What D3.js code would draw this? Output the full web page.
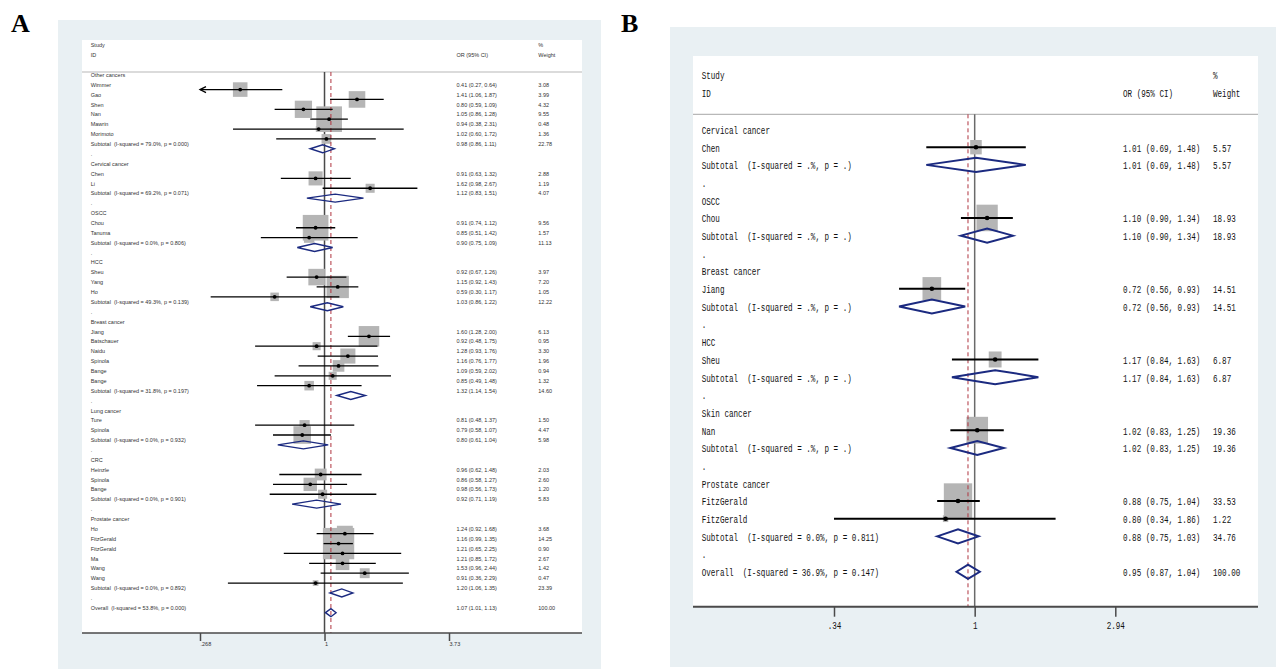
<!DOCTYPE html>
<html>
<head>
<meta charset="utf-8">
<script src="https://cdn.jsdelivr.net/npm/d3@7"></script>
<style>
  html, body { margin: 0; padding: 0; background: #ffffff; }
  svg { display: block; }
  text { white-space: pre; }
</style>
</head>
<body>
<svg id="chart" width="1278" height="669"></svg>
<script>
// row kinds: h = group heading, s = study, t = subtotal, g = spacer ".", o = overall
// study/subtotal rows: [kind, label, OR, lower, upper, weight, arrowLeft]
const rowsA = [
  ['h', 'Other cancers'],
  ['s', 'Wimmer', 0.41, 0.27, 0.64, 3.08, true],
  ['s', 'Gao', 1.41, 1.06, 1.87, 3.99],
  ['s', 'Shen', 0.80, 0.59, 1.09, 4.32],
  ['s', 'Nan', 1.05, 0.86, 1.28, 9.55],
  ['s', 'Mawrin', 0.94, 0.38, 2.31, 0.48],
  ['s', 'Morimoto', 1.02, 0.60, 1.72, 1.36],
  ['t', 'Subtotal  (I-squared = 79.0%, p = 0.000)', 0.98, 0.86, 1.11, 22.78],
  ['g', '.'],
  ['h', 'Cervical cancer'],
  ['s', 'Chen', 0.91, 0.63, 1.32, 2.88],
  ['s', 'Li', 1.62, 0.98, 2.67, 1.19],
  ['t', 'Subtotal  (I-squared = 69.2%, p = 0.071)', 1.12, 0.83, 1.51, 4.07],
  ['g', '.'],
  ['h', 'OSCC'],
  ['s', 'Chou', 0.91, 0.74, 1.12, 9.56],
  ['s', 'Tanuma', 0.85, 0.51, 1.42, 1.57],
  ['t', 'Subtotal  (I-squared = 0.0%, p = 0.806)', 0.90, 0.75, 1.09, 11.13],
  ['g', '.'],
  ['h', 'HCC'],
  ['s', 'Sheu', 0.92, 0.67, 1.26, 3.97],
  ['s', 'Yang', 1.15, 0.92, 1.43, 7.20],
  ['s', 'Ho', 0.59, 0.30, 1.17, 1.05],
  ['t', 'Subtotal  (I-squared = 49.3%, p = 0.139)', 1.03, 0.86, 1.22, 12.22],
  ['g', '.'],
  ['h', 'Breast cancer'],
  ['s', 'Jiang', 1.60, 1.28, 2.00, 6.13],
  ['s', 'Batschauer', 0.92, 0.48, 1.75, 0.95],
  ['s', 'Naidu', 1.28, 0.93, 1.76, 3.30],
  ['s', 'Spinola', 1.16, 0.76, 1.77, 1.96],
  ['s', 'Bange', 1.09, 0.59, 2.02, 0.94],
  ['s', 'Bange', 0.85, 0.49, 1.48, 1.32],
  ['t', 'Subtotal  (I-squared = 31.8%, p = 0.197)', 1.32, 1.14, 1.54, 14.60],
  ['g', '.'],
  ['h', 'Lung cancer'],
  ['s', 'Ture', 0.81, 0.48, 1.37, 1.50],
  ['s', 'Spinola', 0.79, 0.58, 1.07, 4.47],
  ['t', 'Subtotal  (I-squared = 0.0%, p = 0.932)', 0.80, 0.61, 1.04, 5.98],
  ['g', '.'],
  ['h', 'CRC'],
  ['s', 'Heinzle', 0.96, 0.62, 1.48, 2.03],
  ['s', 'Spinola', 0.86, 0.58, 1.27, 2.60],
  ['s', 'Bange', 0.98, 0.56, 1.73, 1.20],
  ['t', 'Subtotal  (I-squared = 0.0%, p = 0.901)', 0.92, 0.71, 1.19, 5.83],
  ['g', '.'],
  ['h', 'Prostate cancer'],
  ['s', 'Ho', 1.24, 0.92, 1.68, 3.68],
  ['s', 'FitzGerald', 1.16, 0.99, 1.35, 14.25],
  ['s', 'FitzGerald', 1.21, 0.65, 2.25, 0.90],
  ['s', 'Ma', 1.21, 0.85, 1.72, 2.67],
  ['s', 'Wang', 1.53, 0.96, 2.44, 1.42],
  ['s', 'Wang', 0.91, 0.36, 2.29, 0.47],
  ['t', 'Subtotal  (I-squared = 0.0%, p = 0.892)', 1.20, 1.06, 1.35, 23.39],
  ['g', '.'],
  ['o', 'Overall  (I-squared = 53.8%, p = 0.000)', 1.07, 1.01, 1.13, 100.00]
];

const rowsB = [
  ['h', 'Cervical cancer'],
  ['s', 'Chen', 1.01, 0.69, 1.48, 5.57],
  ['t', 'Subtotal  (I-squared = .%, p = .)', 1.01, 0.69, 1.48, 5.57],
  ['g', '.'],
  ['h', 'OSCC'],
  ['s', 'Chou', 1.10, 0.90, 1.34, 18.93],
  ['t', 'Subtotal  (I-squared = .%, p = .)', 1.10, 0.90, 1.34, 18.93],
  ['g', '.'],
  ['h', 'Breast cancer'],
  ['s', 'Jiang', 0.72, 0.56, 0.93, 14.51],
  ['t', 'Subtotal  (I-squared = .%, p = .)', 0.72, 0.56, 0.93, 14.51],
  ['g', '.'],
  ['h', 'HCC'],
  ['s', 'Sheu', 1.17, 0.84, 1.63, 6.87],
  ['t', 'Subtotal  (I-squared = .%, p = .)', 1.17, 0.84, 1.63, 6.87],
  ['g', '.'],
  ['h', 'Skin cancer'],
  ['s', 'Nan', 1.02, 0.83, 1.25, 19.36],
  ['t', 'Subtotal  (I-squared = .%, p = .)', 1.02, 0.83, 1.25, 19.36],
  ['g', '.'],
  ['h', 'Prostate cancer'],
  ['s', 'FitzGerald', 0.88, 0.75, 1.04, 33.53],
  ['s', 'FitzGerald', 0.80, 0.34, 1.86, 1.22],
  ['t', 'Subtotal  (I-squared = 0.0%, p = 0.811)', 0.88, 0.75, 1.03, 34.76],
  ['g', '.'],
  ['o', 'Overall  (I-squared = 36.9%, p = 0.147)', 0.95, 0.87, 1.04, 100.00]
];

const ticksA = [0.268, 1, 3.73];
const tickLabelsA = ['.268', '1', '3.73'];
const ticksB = [0.34, 1, 2.94];
const tickLabelsB = ['.34', '1', '2.94'];
const headerLabels = ['Study', 'ID', 'OR (95% CI)', '%', 'Weight'];

const svg = d3.select('#chart');

function drawPanel(c) {
  const g = svg.append('g');

  // panel background and plot region
  g.append('rect').attr('x', c.bg[0]).attr('y', c.bg[1]).attr('width', c.bg[2]).attr('height', c.bg[3])
    .attr('fill', '#e9f0f3');
  g.append('rect').attr('x', c.left).attr('y', c.top).attr('width', c.right - c.left).attr('height', c.axisY - c.top)
    .attr('fill', '#ffffff');

  const x = d3.scaleLog().domain(c.domain).range(c.range);
  const y = d3.scaleLinear().domain([0, 1]).range([c.row0, c.row0 + c.step]);
  const rows = c.rows.map((r, i) => ({ kind: r[0], label: r[1], or: r[2], lo: r[3], hi: r[4], w: r[5], arrow: r[6], i }));
  const est = rows.filter(d => d.kind === 's');
  const pooled = rows.filter(d => d.kind === 't' || d.kind === 'o');
  const overall = rows.find(d => d.kind === 'o');
  const my = d => y(d.i) + c.markOffset;

  const txt = (sel, tx, ty, s, anchor) => sel.append('text')
    .attr('transform', `translate(${tx},${ty}) scale(${c.sx},1)`)
    .attr('dy', '0.35em')
    .attr('text-anchor', anchor || 'start')
    .attr('font-family', c.font)
    .attr('font-size', c.fontSize)
    .attr('fill', c.textColor)
    .attr('xml:space', 'preserve')
    .text(s);

  // header
  txt(g, c.textX, c.studyY, headerLabels[0]);
  txt(g, c.textX, c.idY, headerLabels[1]);
  txt(g, c.ciX, c.idY, headerLabels[2]);
  txt(g, c.wX, c.studyY, headerLabels[3]);
  txt(g, c.wX, c.idY, headerLabels[4]);
  g.append('line').attr('x1', c.left).attr('x2', c.right).attr('y1', c.headY).attr('y2', c.headY)
    .attr('stroke', '#b8b8b8').attr('stroke-width', 1.2);

  // null line
  g.append('line').attr('x1', x(1)).attr('x2', x(1)).attr('y1', c.headY).attr('y2', c.axisY)
    .attr('stroke', c.nullColor).attr('stroke-width', 1.5);

  // weight boxes
  g.selectAll('.box').data(est).enter().append('rect')
    .attr('x', d => x(d.or) - c.kw * Math.sqrt(d.w) / 2)
    .attr('y', d => my(d) - c.kh * Math.sqrt(d.w) / 2)
    .attr('width', d => c.kw * Math.sqrt(d.w))
    .attr('height', d => c.kh * Math.sqrt(d.w))
    .attr('fill', '#b5b5b5');

  // overall effect line
  g.append('line').attr('x1', x(overall.or)).attr('x2', x(overall.or)).attr('y1', c.headY).attr('y2', c.axisY)
    .attr('stroke', '#b0343f').attr('stroke-width', 1).attr('stroke-dasharray', '4,3');

  // confidence intervals
  const lo = d => x(Math.max(d.lo, c.domain[0]));
  g.selectAll('.ci').data(est).enter().append('line')
    .attr('x1', d => d.arrow ? x(c.domain[0]) : lo(d)).attr('x2', d => x(d.hi))
    .attr('y1', my).attr('y2', my)
    .attr('stroke', '#000').attr('stroke-width', c.ciWidth);
  g.selectAll('.arrow').data(est.filter(d => d.arrow)).enter().append('path')
    .attr('d', d => {
      const x0 = x(c.domain[0]), y0 = my(d);
      return `M${x0 + 6},${y0 - 3}L${x0},${y0}L${x0 + 6},${y0 + 3}`;
    })
    .attr('fill', 'none').attr('stroke', '#000').attr('stroke-width', c.ciWidth);
  g.selectAll('.dot').data(est).enter().append('circle')
    .attr('cx', d => x(d.or)).attr('cy', my).attr('r', c.dotR).attr('fill', '#000');

  // pooled diamonds
  g.selectAll('.diamond').data(pooled).enter().append('path')
    .attr('d', d => {
      const yy = my(d);
      return `M${x(d.lo)},${yy}L${x(d.or)},${yy - c.dh}L${x(d.hi)},${yy}L${x(d.or)},${yy + c.dh}Z`;
    })
    .attr('fill', 'none').attr('stroke', '#1b2a80').attr('stroke-width', c.diaWidth);

  // row texts
  rows.forEach(d => {
    txt(g, c.textX, y(d.i), d.label);
    if (d.or !== undefined) {
      txt(g, c.ciX, y(d.i), `${d.or.toFixed(2)} (${d.lo.toFixed(2)}, ${d.hi.toFixed(2)})`);
      txt(g, c.wX, y(d.i), d.w.toFixed(2));
    }
  });

  // x axis
  g.append('line').attr('x1', c.left).attr('x2', c.right).attr('y1', c.axisY).attr('y2', c.axisY)
    .attr('stroke', '#4a4a4a').attr('stroke-width', c.axisWidth);
  const ax = g.append('g').attr('transform', `translate(0,${c.axisY})`)
    .call(d3.axisBottom(x).tickValues(c.ticks).tickFormat((d, i) => c.tickLabels[i])
      .tickSize(c.tickLen).tickSizeOuter(0).tickPadding(c.tickPad));
  ax.select('.domain').remove();
  ax.selectAll('.tick line').attr('stroke', '#4a4a4a').attr('stroke-width', 1.5);
  ax.selectAll('.tick text')
    .attr('font-family', c.font).attr('font-size', c.fontSize).attr('fill', c.textColor)
    .attr('text-anchor', c.tickAnchor)
    .attr('transform', `scale(${c.sx},1)`);
}

drawPanel({
  rows: rowsA, ticks: ticksA, tickLabels: tickLabelsA,
  bg: [58, 20, 543, 649], left: 82, top: 40, right: 582, axisY: 633, headY: 72,
  domain: [0.268, 3.73], range: [200, 449],
  row0: 75, step: 9.87, markOffset: 4.7,
  textX: 90.7, ciX: 456.5, wX: 538.3, studyY: 45, idY: 55,
  font: 'Liberation Sans, Arial, sans-serif', fontSize: 5.5, sx: 1, textColor: '#333',
  kw: 8.3, kh: 8.3, dh: 4, ciWidth: 1.3, dotR: 1.9, diaWidth: 1.4,
  nullColor: '#4a4a4a', axisWidth: 1.5, tickLen: 8, tickPad: 1, tickAnchor: 'start'
});

drawPanel({
  rows: rowsB, ticks: ticksB, tickLabels: tickLabelsB,
  bg: [670, 27, 606, 640], left: 693, top: 56, right: 1258, axisY: 606.7, headY: 114.3,
  domain: [0.34, 2.94], range: [834, 1115.3],
  row0: 130, step: 17.69, markOffset: -0.5,
  textX: 701.7, ciX: 1123, wX: 1213, studyY: 75, idY: 93.3,
  font: 'Liberation Mono, monospace', fontSize: 11, sx: 0.69, textColor: '#111',
  kw: 4.9, kh: 6.1, dh: 7, ciWidth: 2, dotR: 2.3, diaWidth: 2,
  nullColor: '#6a6a6a', axisWidth: 2, tickLen: 10, tickPad: 4, tickAnchor: 'middle'
});

// panel letters
svg.append('text').attr('x', 11).attr('y', 32).attr('font-family', 'Liberation Serif, Times New Roman, serif')
  .attr('font-weight', 'bold').attr('font-size', 26).attr('fill', '#000').text('A');
svg.append('text').attr('x', 621).attr('y', 32).attr('font-family', 'Liberation Serif, Times New Roman, serif')
  .attr('font-weight', 'bold').attr('font-size', 26).attr('fill', '#000').text('B');
</script>
</body>
</html>
